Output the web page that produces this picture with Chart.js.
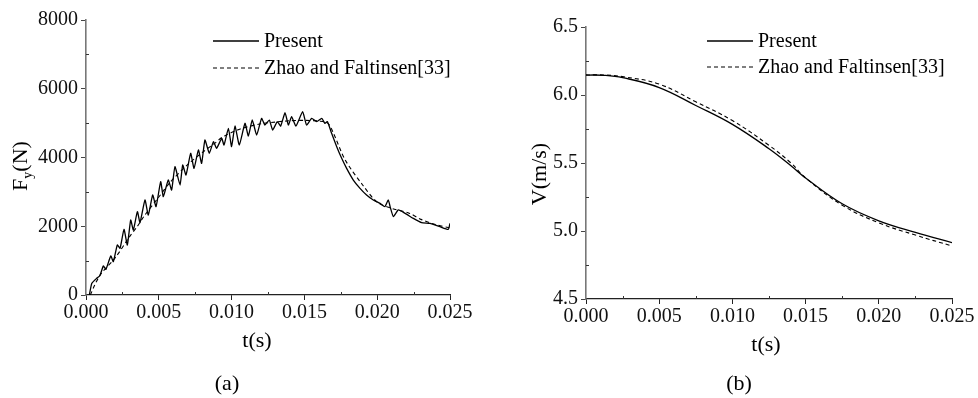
<!DOCTYPE html>
<html>
<head>
<meta charset="utf-8">
<script src="https://cdn.jsdelivr.net/npm/chart.js@4.4.1/dist/chart.umd.min.js"></script>
<style>
  body { margin: 0; background: #fff; }
  #wrap { position: relative; width: 978px; height: 398px; }
  canvas { position: absolute; top: 0; }
  #chartA { left: 0; }
  #chartB { left: 489px; }
</style>
</head>
<body>
<div id="wrap">
  <canvas id="chartA" width="489" height="398"></canvas>
  <canvas id="chartB" width="489" height="398"></canvas>
</div>
<script>
// (a) vertical force, present method
const forceTime = [0.00023, 0.0004, 0.00073, 0.00095, 0.00119, 0.00137, 0.0017, 0.00188, 0.00215, 0.00234,
  0.00261, 0.00284, 0.00307, 0.00325, 0.00353, 0.00371, 0.00405, 0.00428, 0.00458, 0.00481,
  0.00513, 0.00531, 0.00565, 0.00588, 0.00611, 0.00646, 0.00664, 0.00687, 0.00719, 0.00742,
  0.00772, 0.00794, 0.00817, 0.00847, 0.00875, 0.00897, 0.00932, 0.00948, 0.00978, 0.0100,
  0.01023, 0.01053, 0.01092, 0.01115, 0.01142, 0.01172, 0.01206, 0.01229, 0.01259, 0.01282,
  0.01314, 0.01337, 0.01367, 0.0139, 0.01412, 0.01442, 0.01488, 0.01515, 0.0155, 0.01584,
  0.01619, 0.01641, 0.01658, 0.01687, 0.01722, 0.01756, 0.0179, 0.01836, 0.01882, 0.01927,
  0.01973, 0.02019, 0.02053, 0.02076, 0.0209, 0.02111, 0.02145, 0.02191, 0.02248, 0.02305,
  0.02363, 0.02431, 0.02488, 0.025];
const forcePresent = [0, 340, 485, 560, 844, 747, 1135, 970, 1455, 1358,
  1910, 1455, 2182, 1891, 2424, 2104, 2764, 2327, 2909, 2570,
  3297, 2860, 3345, 3055, 3733, 3200, 3782, 3491, 4121, 3685,
  4218, 3830, 4509, 4121, 4460, 4267, 4557, 4364, 4848, 4315,
  4916, 4364, 4994, 4625, 5091, 4654, 5139, 4945, 5091, 4800,
  5042, 4916, 5304, 4945, 5188, 4916, 5333, 4945, 5139, 5042,
  5139, 4994, 5042, 4703, 4315, 3976, 3685, 3345, 3103, 2909,
  2764, 2667, 2570, 2764, 2550, 2279, 2473, 2376, 2230, 2104,
  2085, 1988, 1910, 2085];

// (a) Zhao and Faltinsen
const zhaoForceTime = [0.0003, 0.0006, 0.001, 0.002, 0.003, 0.0035, 0.004, 0.005, 0.0058, 0.007,
  0.008, 0.0088, 0.0094, 0.0106, 0.012, 0.013, 0.014, 0.015, 0.016, 0.0166,
  0.017, 0.0178, 0.019, 0.020, 0.021, 0.0222, 0.023, 0.024, 0.025];
const zhaoForce = [0, 290, 600, 1080, 1700, 1980, 2300, 2850, 3290, 3800,
  4150, 4400, 4600, 4830, 4980, 5030, 5070, 5080, 5060, 5000,
  4700, 3930, 3200, 2700, 2520, 2380, 2200, 2050, 1950];

// (b) velocity
const velTime = [0, 0.00125, 0.0025, 0.005, 0.0075, 0.010, 0.0125, 0.014, 0.015, 0.0175, 0.020, 0.0225, 0.025];
const velPresent = [6.147, 6.145, 6.128, 6.055, 5.923, 5.784, 5.605, 5.48, 5.39, 5.20, 5.075, 4.99, 4.915];
const velZhao = [6.147, 6.147, 6.135, 6.08, 5.95, 5.812, 5.63, 5.50, 5.39, 5.19, 5.06, 4.97, 4.89];

const timeTicks = [0, 0.005, 0.010, 0.015, 0.020, 0.025];
const legendNames = ['Present', 'Zhao and Faltinsen[33]'];

const FONT = '"Liberation Serif", "Times New Roman", serif';

function pts(xs, ys) {
  return xs.map((x, i) => ({ x: x, y: ys[i] }));
}

// minor ticks (inward), legend and axis titles
const decorPlugin = {
  id: 'decor',
  afterDraw(chart, args, opts) {
    const ctx = chart.ctx;
    const xs = chart.scales.x, ys = chart.scales.y;
    const area = chart.chartArea;
    ctx.save();
    ctx.strokeStyle = '#333';
    ctx.lineWidth = 1;
    opts.xMinor.forEach(v => {
      const px = Math.round(xs.getPixelForValue(v)) + 0.5;
      ctx.beginPath();
      ctx.moveTo(px, area.bottom);
      ctx.lineTo(px, area.bottom - 3);
      ctx.stroke();
    });
    opts.yMinor.forEach(v => {
      const py = Math.round(ys.getPixelForValue(v)) + 0.5;
      ctx.beginPath();
      ctx.moveTo(area.left, py);
      ctx.lineTo(area.left + 3, py);
      ctx.stroke();
    });

    // legend
    const lg = opts.legend;
    ctx.fillStyle = '#000';
    ctx.font = '20px ' + FONT;
    ctx.textBaseline = 'middle';
    ctx.textAlign = 'left';
    legendNames.forEach((name, i) => {
      const y = lg.y + i * lg.gap;
      ctx.beginPath();
      ctx.strokeStyle = '#000';
      ctx.lineWidth = i === 0 ? 1.3 : 1.1;
      ctx.setLineDash(i === 0 ? [] : [4, 3]);
      ctx.moveTo(lg.x, y);
      ctx.lineTo(lg.x + 46, y);
      ctx.stroke();
      ctx.setLineDash([]);
      ctx.fillText(name, lg.x + 51, y + 1);
    });

    // x title and panel label
    ctx.textAlign = 'center';
    ctx.font = '22px ' + FONT;
    ctx.fillText('t(s)', opts.xTitle.x, opts.xTitle.y);
    ctx.fillText(opts.panel.text, opts.panel.x, opts.panel.y);

    // y title (rotated)
    ctx.translate(opts.yTitle.x, opts.yTitle.y);
    ctx.rotate(-Math.PI / 2);
    if (opts.yTitle.sub) {
      const a = opts.yTitle.main, s = opts.yTitle.sub, b = opts.yTitle.rest;
      ctx.font = '22px ' + FONT;
      const wa = ctx.measureText(a).width, wb = ctx.measureText(b).width;
      ctx.font = '14px ' + FONT;
      const ws = ctx.measureText(s).width;
      let x0 = -(wa + ws + wb) / 2;
      ctx.textAlign = 'left';
      ctx.font = '22px ' + FONT;
      ctx.fillText(a, x0, 0);
      ctx.font = '14px ' + FONT;
      ctx.fillText(s, x0 + wa, 7);
      ctx.font = '22px ' + FONT;
      ctx.fillText(b, x0 + wa + ws, 0);
    } else {
      ctx.font = '22px ' + FONT;
      ctx.fillText(opts.yTitle.main, 0, 0);
    }
    ctx.restore();
  }
};

function xScale() {
  return {
    type: 'linear',
    min: 0,
    max: 0.025,
    afterBuildTicks: s => { s.ticks = timeTicks.map(v => ({ value: v })); },
    ticks: {
      callback: v => v.toFixed(3),
      color: '#111',
      font: { family: FONT, size: 20 },
      padding: 1,
      maxRotation: 0,
      autoSkip: false
    },
    grid: { display: true, drawOnChartArea: false, drawTicks: true, tickLength: 5, tickColor: '#222', tickWidth: 1 },
    border: { display: true, color: '#222', width: 1.2 }
  };
}

function yScale(min, max, step, digits) {
  return {
    type: 'linear',
    min: min,
    max: max,
    ticks: {
      stepSize: step,
      callback: v => v.toFixed(digits),
      color: '#111',
      font: { family: FONT, size: 20 },
      padding: 3
    },
    grid: { display: true, drawOnChartArea: false, drawTicks: true, tickLength: 5, tickColor: '#444', tickWidth: 1 },
    border: { display: true, color: '#777', width: 1.6 }
  };
}

function makeChart(id, datasets, y, box, decor) {
  const sx = xScale();
  sx.afterFit = s => { s.height = 398 - box.bottom; };
  y.afterFit = s => { s.width = box.left; };
  return new Chart(document.getElementById(id), {
    type: 'line',
    data: { datasets: datasets },
    options: {
      responsive: false,
      animation: false,
      layout: { padding: { left: 0, top: box.top, right: 489 - box.right, bottom: 0 } },
      plugins: { legend: { display: false }, tooltip: { enabled: false }, decor: decor },
      elements: { point: { radius: 0 } },
      scales: { x: sx, y: y }
    },
    plugins: [decorPlugin]
  });
}

const solid = { borderColor: '#000', borderWidth: 1.3, fill: false };
const dashed = { borderColor: '#000', borderWidth: 1.1, borderDash: [4, 3], fill: false };

makeChart('chartA', [
  Object.assign({ label: legendNames[1], data: pts(zhaoForceTime, zhaoForce), tension: 0.3 }, dashed),
  Object.assign({ label: legendNames[0], data: pts(forceTime, forcePresent), tension: 0.15 }, solid)
], yScale(0, 8000, 2000, 0), { left: 86, right: 450, top: 20, bottom: 295 }, {
  xMinor: [0.0025, 0.0075, 0.0125, 0.0175, 0.0225],
  yMinor: [1000, 3000, 5000, 7000],
  legend: { x: 213, y: 41, gap: 27 },
  xTitle: { x: 257, y: 341 },
  panel: { text: '(a)', x: 227, y: 384 },
  yTitle: { x: 21, y: 166, main: 'F', sub: 'y', rest: '(N)' }
});

makeChart('chartB', [
  Object.assign({ label: legendNames[1], data: pts(velTime, velZhao), tension: 0.4 }, dashed),
  Object.assign({ label: legendNames[0], data: pts(velTime, velPresent), tension: 0.4 }, solid)
], yScale(4.5, 6.5, 0.5, 1), { left: 97, right: 463, top: 27, bottom: 299 }, {
  xMinor: [0.0025, 0.0075, 0.0125, 0.0175, 0.0225],
  yMinor: [4.75, 5.25, 5.75, 6.25],
  legend: { x: 218, y: 41, gap: 26 },
  xTitle: { x: 277, y: 345 },
  panel: { text: '(b)', x: 250, y: 384 },
  yTitle: { x: 51, y: 174, main: 'V(m/s)' }
});
</script>
</body>
</html>
